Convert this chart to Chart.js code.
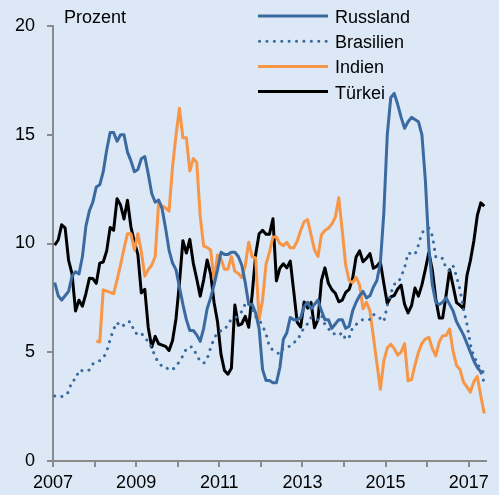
<!DOCTYPE html>
<html>
<head>
<meta charset="utf-8">
<script src="https://cdn.jsdelivr.net/npm/chart.js@4/dist/chart.umd.min.js"></script>
<style>
  html, body { margin: 0; padding: 0; background: #dce8f6; }
  canvas { display: block; }
</style>
</head>
<body>
<canvas id="chart" width="499" height="495"></canvas>
<script>
// monthly values, Jan 2007 .. May 2017 (y/y in %)
const START_YEAR = 2007;
const xTickLabels = ['2007', '', '2009', '', '2011', '', '2013', '', '2015', '', '2017'];
const yTickValues = [0, 5, 10, 15, 20];
const unitLabel = 'Prozent';

const russland = [
  8.2, 7.6, 7.4, 7.6, 7.8, 8.5, 8.7, 8.6, 9.4, 10.8, 11.5, 11.9,
  12.6, 12.7, 13.3, 14.3, 15.1, 15.1, 14.7, 15.0, 15.0, 14.2, 13.8, 13.3,
  13.4, 13.9, 14.0, 13.2, 12.3, 11.9, 12.0, 11.6, 10.7, 9.7, 9.1, 8.8,
  8.0, 7.2, 6.5, 6.0, 6.0, 5.8, 5.5, 6.1, 7.0, 7.5, 8.1, 8.8,
  9.6, 9.5, 9.5, 9.6, 9.6, 9.4, 9.0, 8.2, 7.2, 7.2, 6.8, 6.1,
  4.2, 3.7, 3.7, 3.6, 3.6, 4.3, 5.6, 5.9, 6.6, 6.5, 6.5, 6.6,
  7.1, 7.3, 7.0, 7.2, 7.4, 6.9, 6.5, 6.5, 6.1, 6.3, 6.5, 6.5,
  6.1, 6.2, 6.9, 7.3, 7.6, 7.8, 7.5, 7.6, 8.0, 8.3, 9.1, 11.4,
  15.0, 16.7, 16.9, 16.4, 15.8, 15.3, 15.6, 15.8, 15.7, 15.6, 15.0, 12.9,
  9.8, 8.1, 7.3, 7.2, 7.3, 7.5, 7.2, 6.9, 6.4, 6.1, 5.8, 5.4,
  5.0, 4.6, 4.3, 4.1, 4.1
];

const brasilien = [
  2.99, 3.02, 2.96, 3.00, 3.18, 3.69, 3.74, 4.18, 4.15, 4.12, 4.19, 4.46,
  4.56, 4.61, 4.73, 5.04, 5.58, 6.06, 6.37, 6.17, 6.25, 6.41, 6.39, 5.90,
  5.84, 5.90, 5.61, 5.53, 5.20, 4.80, 4.50, 4.36, 4.34, 4.17, 4.22, 4.31,
  4.59, 4.83, 5.17, 5.26, 5.22, 4.84, 4.60, 4.49, 4.70, 5.20, 5.63, 5.91,
  5.99, 6.01, 6.30, 6.51, 6.55, 6.71, 6.87, 7.23, 7.31, 6.97, 6.64, 6.50,
  6.22, 5.85, 5.24, 5.10, 4.99, 4.92, 5.20, 5.24, 5.28, 5.45, 5.53, 5.84,
  6.15, 6.31, 6.59, 6.49, 6.50, 6.70, 6.27, 6.09, 5.86, 5.84, 5.77, 5.91,
  5.59, 5.68, 6.15, 6.28, 6.37, 6.52, 6.50, 6.51, 6.75, 6.59, 6.56, 6.41,
  7.14, 7.70, 8.13, 8.17, 8.47, 8.89, 9.56, 9.53, 9.49, 9.93, 10.48, 10.67,
  10.71, 10.36, 9.39, 9.28, 9.32, 8.84, 8.74, 8.97, 8.48, 7.87, 6.99, 6.29,
  5.35, 4.76, 4.57, 4.08, 3.60
];

const indien = [
  null, null, null, null, null, null, null, null, null, null, null, null,
  5.51, 5.47, 7.87, 7.81, 7.75, 7.69, 8.33, 9.02, 9.77, 10.45, 10.45, 9.70,
  10.45, 9.63, 8.5, 8.8, 9.0, 9.4, 11.89, 11.72, 11.64, 11.49, 13.51, 14.97,
  16.22, 14.86, 14.86, 13.33, 13.91, 13.73, 11.25, 9.88, 9.82, 9.70, 8.33, 9.47,
  9.30, 8.82, 8.82, 9.41, 8.72, 8.62, 8.43, 8.99, 10.06, 9.39, 9.34, 6.49,
  7.4, 9.05, 9.6, 10.3, 10.3, 10.0, 9.9, 10.05, 9.8, 9.8, 10.1, 10.6,
  11.0, 11.1, 10.4, 9.7, 9.4, 10.4, 10.6, 10.7, 10.9, 11.2, 12.1, 10.6,
  9.0, 8.3, 8.2, 8.45, 8.1, 7.0, 7.3, 6.9, 5.7, 4.5, 3.3, 4.6,
  5.19, 5.37, 5.17, 4.87, 5.01, 5.40, 3.69, 3.74, 4.41, 5.00, 5.41, 5.61,
  5.69, 5.18, 4.83, 5.47, 5.76, 5.77, 6.07, 5.05, 4.39, 4.20, 3.63, 3.41,
  3.17, 3.65, 3.89, 2.99, 2.18
];

const tuerkei = [
  9.93, 10.16, 10.86, 10.72, 9.23, 8.60, 6.90, 7.39, 7.12, 7.70, 8.40, 8.39,
  8.17, 9.10, 9.15, 9.66, 10.74, 10.61, 12.06, 11.77, 11.13, 11.99, 10.76, 10.06,
  9.50, 7.73, 7.89, 6.13, 5.24, 5.73, 5.39, 5.33, 5.27, 5.08, 5.53, 6.53,
  8.19, 10.13, 9.56, 10.19, 9.10, 8.37, 7.58, 8.33, 9.24, 8.62, 7.29, 6.40,
  4.90, 4.16, 3.99, 4.26, 7.17, 6.24, 6.31, 6.65, 6.15, 7.66, 9.48, 10.45,
  10.61, 10.43, 10.43, 11.14, 8.28, 8.87, 9.07, 8.88, 9.19, 7.80, 6.37, 6.16,
  7.31, 7.03, 7.29, 6.13, 6.51, 8.30, 8.88, 8.17, 7.88, 7.71, 7.32, 7.40,
  7.75, 7.89, 8.39, 9.38, 9.66, 9.16, 9.32, 9.54, 8.86, 8.96, 9.15, 8.17,
  7.24, 7.55, 7.61, 7.91, 8.09, 7.20, 6.81, 7.14, 7.95, 7.58, 8.10, 8.81,
  9.58, 8.78, 7.46, 6.57, 6.58, 7.64, 8.79, 8.05, 7.28, 7.16, 7.00, 8.53,
  9.22, 10.13, 11.29, 11.87, 11.72
];

const FONT = '"Liberation Sans", Arial, sans-serif';
const BG = '#dce8f6';
const AXIS = '#8a8a8a';
const BLUE = '#3b6aa0';
const ORANGE = '#f79646';

// months are plotted in the middle of each month
const toPoints = (vals) => vals.map((v, i) => ({ x: i + 0.5, y: v }));

const bgPlugin = {
  id: 'bg',
  beforeDraw(chart) {
    const c = chart.ctx;
    c.save();
    c.fillStyle = BG;
    c.fillRect(0, 0, chart.width, chart.height);
    c.restore();
  }
};

// legend in the upper right + unit label
const legendPlugin = {
  id: 'legendBox',
  afterDraw(chart) {
    const c = chart.ctx;
    c.save();
    c.font = '18px ' + FONT;
    c.fillStyle = '#000';
    c.textBaseline = 'alphabetic';
    c.fillText(unitLabel, 64, 23);
    chart.data.datasets.forEach((ds, i) => {
      const y = 16 + i * 25.2;
      c.beginPath();
      c.strokeStyle = ds.borderColor;
      c.lineWidth = ds.borderWidth;
      c.lineCap = ds.borderDash.length ? 'round' : 'butt';
      c.setLineDash(ds.borderDash);
      c.moveTo(ds.borderDash.length ? 259.5 : 258, y);
      c.lineTo(328, y);
      c.stroke();
      c.setLineDash([]);
      c.fillStyle = '#000';
      c.fillText(ds.label, 335, y + 7);
    });
    c.restore();
  }
};

const series = [
  { label: 'Russland', values: russland },
  { label: 'Brasilien', values: brasilien },
  { label: 'Indien', values: indien },
  { label: 'Türkei', values: tuerkei },
];
const styles = {
  'Russland': { color: BLUE, dash: [] },
  'Brasilien': { color: BLUE, dash: [0.1, 7.3] },
  'Indien': { color: ORANGE, dash: [] },
  'Türkei': { color: '#000', dash: [] },
};

new Chart(document.getElementById('chart'), {
  type: 'line',
  data: {
    datasets: series.map(s => ({
      label: s.label,
      data: toPoints(s.values),
      borderColor: styles[s.label].color,
      borderDash: styles[s.label].dash,
      borderCapStyle: styles[s.label].dash.length ? 'round' : 'butt',
      borderJoinStyle: 'round',
      borderWidth: 3,
      pointRadius: 0,
      tension: 0,
      spanGaps: false,
      fill: false,
    }))
  },
  options: {
    responsive: false,
    animation: false,
    devicePixelRatio: 1,
    layout: { padding: { top: 26, right: 13, left: 0, bottom: 0 } },
    plugins: {
      legend: { display: false },
      tooltip: { enabled: false },
    },
    scales: {
      x: {
        type: 'linear',
        min: 0,
        max: 125,
        afterBuildTicks: (s) => { s.ticks = xTickLabels.map((_, i) => ({ value: i * 12 })); },
        afterFit: (s) => { s.height = 34; },
        grid: { drawOnChartArea: false, drawTicks: true, tickLength: 6, color: AXIS, lineWidth: 2 },
        border: { color: AXIS, width: 2 },
        ticks: {
          autoSkip: false, maxRotation: 0, padding: 5,
          color: '#000', font: { family: FONT, size: 18 },
          callback: (v) => xTickLabels[Math.round(v / 12)] || '',
        },
      },
      y: {
        min: 0,
        max: 20,
        afterBuildTicks: (s) => { s.ticks = yTickValues.map(v => ({ value: v })); },
        afterFit: (s) => { s.width = 53; },
        grid: { drawOnChartArea: false, drawTicks: true, tickLength: 6, color: AXIS, lineWidth: 2 },
        border: { color: AXIS, width: 2 },
        ticks: {
          padding: 12,
          color: '#000', font: { family: FONT, size: 18 },
        },
      },
    },
  },
  plugins: [bgPlugin, legendPlugin],
});
</script>
</body>
</html>
